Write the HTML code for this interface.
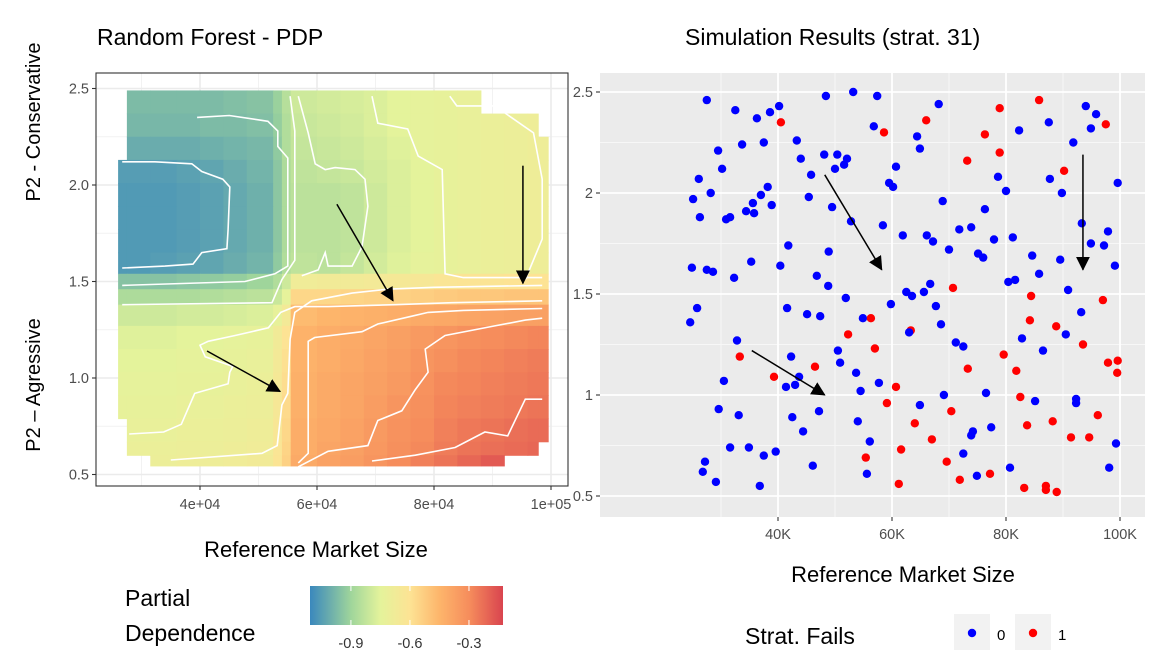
<!DOCTYPE html>
<html><head><meta charset="utf-8"><style>
html,body{margin:0;padding:0;background:#fff;}
svg{display:block;font-family:"Liberation Sans",sans-serif;}
</style></head><body>
<svg id="chart" width="1168" height="669" viewBox="0 0 1168 669">
<defs>
<linearGradient id="pdgrad" x1="0" x2="1" y1="0" y2="0">
<stop offset="0" stop-color="#3a88bd"/><stop offset="0.212" stop-color="#9fd59b"/><stop offset="0.365" stop-color="#e4f39b"/><stop offset="0.518" stop-color="#fde394"/><stop offset="0.671" stop-color="#fdb56b"/><stop offset="0.824" stop-color="#f68d5c"/><stop offset="1" stop-color="#d9444f"/>
</linearGradient>
<marker id="ah" markerWidth="8" markerHeight="8" refX="7" refY="4" orient="auto" markerUnits="userSpaceOnUse"><path d="M0,0 L8,4 L0,8 z" fill="#000"/></marker>
<marker id="ah2" markerWidth="14" markerHeight="14" refX="13" refY="7" orient="auto" markerUnits="userSpaceOnUse"><path d="M0,0 L14,7 L0,14 z" fill="#000"/></marker>
</defs>
<g id="left"></g>
<g id="right"></g>
</svg>
<script>
// ---------- LEFT: PDP heatmap data ----------
const pdXBreaks=[26,27.5,31.5,36,40,44,48,52.5,54,55.5,60,64,68,72,76,80,84,88,92,96,97.8,99.5]; // thousands
const pdYBreaks=[2.49,2.37,2.25,2.13,2.01,1.89,1.77,1.65,1.54,1.46,1.38,1.27,1.15,1.03,0.91,0.79,0.67,0.60,0.545];
const N=null;
const pdValues=[
[N,-.97,-.97,-.97,-.97,-.96,-.95,-.91,-.85,-.80,-.79,-.78,-.77,-.75,-.74,-.73,-.72,N,N,N,N],
[N,-.98,-.98,-.98,-.97,-.97,-.96,-.92,-.86,-.81,-.80,-.79,-.77,-.75,-.74,-.73,-.72,-.71,-.70,-.69,N],
[N,-1.01,-1.01,-1.01,-1.0,-.99,-.98,-.93,-.86,-.82,-.81,-.80,-.78,-.76,-.74,-.73,-.72,-.71,-.70,-.69,-.69],
[-1.05,-1.05,-1.05,-1.04,-1.03,-1.01,-.99,-.94,-.87,-.83,-.82,-.81,-.79,-.77,-.75,-.73,-.72,-.71,-.70,-.69,-.69],
[-1.06,-1.06,-1.06,-1.05,-1.04,-1.02,-1.0,-.94,-.87,-.84,-.84,-.83,-.80,-.77,-.75,-.73,-.72,-.71,-.70,-.69,-.69],
[-1.06,-1.06,-1.06,-1.05,-1.04,-1.02,-1.0,-.94,-.87,-.84,-.84,-.83,-.80,-.77,-.75,-.73,-.72,-.71,-.70,-.69,-.69],
[-1.06,-1.06,-1.06,-1.05,-1.04,-1.02,-1.0,-.94,-.87,-.84,-.84,-.83,-.80,-.77,-.75,-.73,-.72,-.71,-.70,-.69,-.69],
[-1.06,-1.06,-1.05,-1.04,-1.03,-1.01,-.99,-.93,-.86,-.83,-.84,-.82,-.79,-.76,-.74,-.73,-.72,-.71,-.70,-.69,-.69],
[-.95,-.95,-.95,-.94,-.93,-.92,-.9,-.86,-.8,-.68,-.67,-.67,-.66,-.65,-.64,-.62,-.61,-.61,-.60,-.60,-.60],
[-.87,-.87,-.87,-.87,-.86,-.85,-.84,-.81,-.74,-.56,-.56,-.55,-.54,-.54,-.53,-.52,-.51,-.51,-.50,-.50,-.50],
[-.8,-.8,-.8,-.79,-.79,-.78,-.77,-.73,-.66,-.47,-.45,-.44,-.43,-.42,-.41,-.40,-.39,-.38,-.37,-.37,-.37],
[-.76,-.76,-.76,-.75,-.75,-.74,-.73,-.67,-.6,-.44,-.42,-.41,-.39,-.37,-.35,-.33,-.31,-.30,-.29,-.28,-.28],
[-.75,-.75,-.75,-.74,-.74,-.73,-.72,-.66,-.59,-.44,-.42,-.40,-.38,-.36,-.33,-.31,-.29,-.28,-.27,-.26,-.26],
[-.74,-.74,-.74,-.73,-.73,-.72,-.71,-.65,-.58,-.43,-.41,-.39,-.37,-.35,-.32,-.29,-.28,-.27,-.26,-.25,-.25],
[-.73,-.73,-.73,-.72,-.72,-.71,-.70,-.64,-.57,-.43,-.41,-.39,-.36,-.33,-.31,-.28,-.27,-.26,-.25,-.24,-.24],
[N,-.72,-.72,-.71,-.71,-.70,-.69,-.63,-.56,-.42,-.40,-.38,-.35,-.32,-.30,-.27,-.25,-.24,-.23,-.22,-.22],
[N,-.71,-.71,-.70,-.70,-.69,-.68,-.62,-.55,-.42,-.39,-.37,-.34,-.31,-.29,-.26,-.24,-.23,-.22,-.21,N],
[N,N,-.70,-.69,-.69,-.68,-.67,-.61,-.54,-.41,-.38,-.36,-.33,-.30,-.27,-.24,-.21,-.18,N,N,N]
];
const contourLines=[
[[26.7,2.12],[32.3,2.12],[38.6,2.11],[40.3,2.07],[43.9,2.03],[45.1,1.99],[44.8,1.77],[44.6,1.67],[40.3,1.65],[38.8,1.59],[34.0,1.58],[26.7,1.57]],
[[39.5,2.35],[45,2.36],[51.6,2.33],[53.3,2.28],[53.3,2.20],[55.0,2.14],[55.0,1.58],[52.8,1.54],[47.7,1.50],[26.7,1.48]],
[[55.4,2.46],[56.2,2.28],[56.2,1.61],[54.0,1.51],[52.3,1.39],[26.7,1.38]],
[[27.9,0.71],[33.8,0.72],[36.8,0.76],[39.1,0.92],[44.8,0.97],[45.1,1.03],[45.6,1.06],[40.9,1.11],[40,1.17],[41.4,1.19],[46,1.22],[51.7,1.26],[53.8,1.34],[56.2,1.37],[61.9,1.37],[73.3,1.38],[83.1,1.39],[98.5,1.40]],
[[35,0.575],[50.6,0.61],[53.2,0.65],[54,0.86],[55,0.92],[55.4,1.20],[56.2,1.34],[59.1,1.40],[66,1.44],[72,1.46],[80,1.47],[98.5,1.48]],
[[56.8,0.56],[58.5,0.61],[58.5,1.19],[59.6,1.21],[67.7,1.24],[70.4,1.28],[76.2,1.32],[79,1.34],[85,1.35],[98.5,1.36]],
[[69.4,0.57],[76.8,0.60],[83.6,0.64],[88.7,0.72],[92.6,0.70],[95.6,0.89],[98.5,0.89]],
[[56.8,0.54],[61.9,0.62],[68.7,0.65],[70.4,0.78],[74.5,0.83],[76.8,0.94],[79,1.03],[78.5,1.15],[81.9,1.22],[90.4,1.27],[95.6,1.30],[98.5,1.31]],
[[69.4,2.46],[70.4,2.32],[75.5,2.29],[77.3,2.15],[81.4,2.08],[81.9,1.54],[85,1.52],[98.5,1.52]],
[[82.7,2.46],[83.9,2.41],[90.4,2.41],[97,2.27],[98.5,2.03],[98.5,1.72],[95.6,1.51]],
[[56.8,2.46],[58.5,2.27],[59.7,2.11],[61.4,2.08],[63.1,2.09],[66.5,2.08],[68.2,2.03],[68.7,1.89],[67.7,1.68],[66,1.58],[61.9,1.58],[61.4,1.65],[60.2,1.56],[57.4,1.53]]
];
const pdArrows=[[41.2,1.14,53.7,0.93],[63.4,1.90,73.0,1.40],[95.2,2.10,95.2,1.49]];
const pdXTicks=[40000,60000,80000,100000];
const pdXTickLabels=["4e+04","6e+04","8e+04","1e+05"];
const pdYTicks=[0.5,1.0,1.5,2.0,2.5];
const pdYTickLabels=["0.5","1.0","1.5","2.0","2.5"];
const legendTicks=[-0.9,-0.6,-0.3];
const legendTickLabels=["-0.9","-0.6","-0.3"];

// ---------- RIGHT: scatter data ----------
const simX=[27.5,32.5,36.3,38.6,40.2,40.5,43.3,44.0,45.8,48.1,50.4,52.1,51.6,50.0,48.4,53.2,56.8,33.7,37.5,29.5,30.2,26.1,28.2,25.1,26.3,30.9,31.6,34.4,35.6,35.8,37.0,38.2,38.9,45.4,49.5,52.8,41.8,48.9,24.9,27.5,28.6,35.3,32.3,40.4,46.8,48.8,
57.4,68.2,66.0,58.6,64.4,64.9,78.9,85.8,76.3,78.9,73.2,82.3,87.5,94.0,95.8,94.9,97.5,91.8,90.2,87.7,89.8,99.6,60.7,59.5,60.2,78.6,80.0,68.9,76.3,58.4,61.9,66.1,67.2,71.8,73.9,77.9,81.2,70.0,75.1,76.0,84.6,89.5,85.8,93.3,94.9,97.2,97.9,99.1,80.4,81.6,90.9,66.7,62.5,65.6,70.7,84.4,
25.8,24.6,32.8,33.3,30.5,39.3,41.6,45.1,47.4,42.3,41.4,43.0,43.7,46.5,51.9,54.9,56.3,52.3,57.0,50.5,50.9,53.7,54.5,29.6,33.1,47.2,42.5,44.4,54.0,56.1,55.4,55.6,31.6,34.9,39.6,37.5,27.2,26.8,29.1,36.8,46.1,
63.5,59.8,67.7,63.3,63.0,68.6,71.2,72.5,73.3,57.7,60.7,59.1,64.9,69.1,70.4,64.0,67.0,74.2,73.9,76.5,77.4,61.6,61.2,69.6,72.5,71.9,74.9,77.2,80.7,97.0,93.2,84.2,88.8,90.5,82.8,93.5,86.5,79.6,81.8,97.9,99.6,99.5,82.5,85.1,92.3,92.3,96.1,83.7,88.2,91.4,94.6,99.3,98.1,83.2,87.0,87.0,88.9];
const simY=[2.46,2.41,2.37,2.40,2.43,2.35,2.26,2.17,2.09,2.19,2.19,2.17,2.14,2.12,2.48,2.50,2.33,2.24,2.25,2.21,2.12,2.07,2.00,1.97,1.88,1.87,1.88,1.91,1.95,1.90,1.99,2.03,1.94,1.98,1.93,1.86,1.74,1.71,1.63,1.62,1.61,1.66,1.58,1.64,1.59,1.54,
2.48,2.44,2.36,2.30,2.28,2.22,2.42,2.46,2.29,2.20,2.16,2.31,2.35,2.43,2.39,2.32,2.34,2.25,2.11,2.07,2.00,2.05,2.13,2.05,2.03,2.08,2.01,1.96,1.92,1.84,1.79,1.79,1.76,1.82,1.83,1.77,1.78,1.72,1.70,1.68,1.69,1.67,1.60,1.85,1.75,1.74,1.81,1.64,1.56,1.57,1.52,1.55,1.51,1.51,1.53,1.49,
1.43,1.36,1.27,1.19,1.07,1.09,1.43,1.40,1.39,1.19,1.04,1.05,1.09,1.14,1.48,1.38,1.38,1.30,1.23,1.22,1.16,1.11,1.02,0.93,0.90,0.92,0.89,0.82,0.87,0.77,0.69,0.61,0.74,0.74,0.72,0.70,0.67,0.62,0.57,0.55,0.65,
1.49,1.45,1.44,1.32,1.31,1.35,1.26,1.24,1.13,1.06,1.04,0.96,0.95,1.00,0.92,0.86,0.78,0.82,0.80,1.01,0.84,0.73,0.56,0.67,0.71,0.58,0.60,0.61,0.64,1.47,1.41,1.37,1.34,1.30,1.28,1.25,1.22,1.20,1.12,1.16,1.17,1.11,0.99,0.97,0.98,0.96,0.90,0.85,0.87,0.79,0.79,0.76,0.64,0.54,0.55,0.53,0.52];
const simFail=[0,0,0,0,0,1,0,0,0,0,0,0,0,0,0,0,0,0,0,0,0,0,0,0,0,0,0,0,0,0,0,0,0,0,0,0,0,0,0,0,0,0,0,0,0,0,
0,0,1,1,0,0,1,1,1,1,1,0,0,0,0,0,1,0,1,0,0,0,0,0,0,0,0,0,0,0,0,0,0,0,0,0,0,0,0,0,0,0,0,0,0,0,0,0,0,0,0,0,0,0,1,1,
0,0,0,1,0,1,0,0,0,0,0,0,0,1,0,0,1,1,1,0,0,0,0,0,0,0,0,0,0,0,1,0,0,0,0,0,0,0,0,0,0,
0,0,0,1,0,0,0,0,1,0,1,1,0,0,1,1,1,0,0,0,0,1,1,1,0,1,0,1,0,1,0,1,1,0,0,1,0,1,1,1,1,1,1,0,0,0,1,1,1,1,1,0,0,1,1,1,1];
const simArrows=[[35.4,1.22,48.2,1.00],[48.2,2.09,58.2,1.62],[93.5,2.19,93.5,1.62]];
const simXTicks=[40,60,80,100];
const simXTickLabels=["40K","60K","80K","100K"];
const simYTicks=[0.5,1,1.5,2,2.5];
const simYTickLabels=["0.5","1","1.5","2","2.5"];

const NS="http://www.w3.org/2000/svg";
function mk(parent,tag,attrs,text){const e=document.createElementNS(NS,tag);for(const k in attrs)e.setAttribute(k,attrs[k]);if(text!==undefined)e.textContent=text;parent.appendChild(e);return e;}

// color scale
const cStops=[[-1.108,[58,136,189]],[-0.9,[159,213,155]],[-0.75,[228,243,155]],[-0.6,[253,227,148]],[-0.45,[253,181,107]],[-0.3,[246,141,92]],[-0.127,[217,68,79]]];
function pdColor(v){if(v<=cStops[0][0])return 'rgb('+cStops[0][1]+')';for(let i=1;i<cStops.length;i++){if(v<=cStops[i][0]){const a=cStops[i-1],b=cStops[i];const t=(v-a[0])/(b[0]-a[0]);const c=a[1].map((x,j)=>Math.round(x+(b[1][j]-x)*t));return 'rgb('+c+')';}}return 'rgb('+cStops[cStops.length-1][1]+')';}

// ---- left panel ----
const L=document.getElementById('left');
const lx=x=>200+(x-40)*5.85; // x in thousands
const ly=y=>378-(y-1)*193;
mk(L,'rect',{x:96,y:73,width:472,height:413,fill:'#fff'});
const lgrid=mk(L,'g',{});


[30,50,70,90].forEach(v=>mk(lgrid,'line',{x1:lx(v),x2:lx(v),y1:73,y2:486,stroke:'#f2f2f2','stroke-width':1}));
[0.75,1.25,1.75,2.25].forEach(v=>mk(lgrid,'line',{x1:96,x2:568,y1:ly(v),y2:ly(v),stroke:'#f2f2f2','stroke-width':1}));
pdXTicks.forEach(v=>mk(lgrid,'line',{x1:lx(v/1000),x2:lx(v/1000),y1:73,y2:486,stroke:'#ebebeb','stroke-width':1.6}));
pdYTicks.forEach(v=>mk(lgrid,'line',{x1:96,x2:568,y1:ly(v),y2:ly(v),stroke:'#ebebeb','stroke-width':1.6}));
const tiles=mk(L,'g',{});


for(let r=0;r<pdValues.length;r++){for(let c=0;c<pdValues[r].length;c++){const v=pdValues[r][c];if(v===null)continue;
const x0=lx(pdXBreaks[c]),x1=lx(pdXBreaks[c+1]),y0=ly(pdYBreaks[r]),y1=ly(pdYBreaks[r+1]);
const t=mk(tiles,'rect',{x:x0.toFixed(2),y:y0.toFixed(2),width:(x1-x0+0.6).toFixed(2),height:(y1-y0+0.6).toFixed(2),fill:pdColor(v)});

}}
const cg=mk(L,'g',{fill:'none',stroke:'#fff','stroke-width':1.6});


contourLines.forEach(line=>{const p=mk(cg,'polyline',{points:line.map(q=>lx(q[0]).toFixed(1)+','+ly(q[1]).toFixed(1)).join(' ')});

});
pdArrows.forEach(a=>{const e=mk(L,'line',{x1:lx(a[0]),y1:ly(a[1]),x2:lx(a[2]),y2:ly(a[3]),stroke:'#000','stroke-width':1.5,'marker-end':'url(#ah2)'});

});
mk(L,'rect',{x:96,y:73,width:472,height:413,fill:'none',stroke:'#333','stroke-width':1.1});
pdXTicks.forEach((v,i)=>{mk(L,'line',{x1:lx(v/1000),x2:lx(v/1000),y1:486,y2:490,stroke:'#333','stroke-width':1.1});
const t=mk(L,'text',{x:lx(v/1000),y:509,'text-anchor':'middle','font-size':14.5,fill:'#4d4d4d'},pdXTickLabels[i]);

});
pdYTicks.forEach((v,i)=>{mk(L,'line',{x1:92,x2:96,y1:ly(v),y2:ly(v),stroke:'#333','stroke-width':1.1});
const t=mk(L,'text',{x:89,y:ly(v)+5,'text-anchor':'end','font-size':14.5,fill:'#4d4d4d'},pdYTickLabels[i]);

});
let tt=mk(L,'text',{x:97,y:45,'font-size':23,fill:'#000'},'Random Forest - PDP');


tt=mk(L,'text',{x:316,y:557,'text-anchor':'middle','font-size':22,fill:'#000'},'Reference Market Size');


tt=mk(L,'text',{x:0,y:0,transform:'translate(40,122) rotate(-90)','text-anchor':'middle','font-size':20,fill:'#000'},'P2 - Conservative');


tt=mk(L,'text',{x:0,y:0,transform:'translate(40,385) rotate(-90)','text-anchor':'middle','font-size':20,fill:'#000'},'P2 – Agressive');


// colorbar legend
const lg=mk(L,'g',{});


tt=mk(lg,'text',{x:125,y:606,'font-size':23,fill:'#000'},'Partial');


mk(lg,'text',{x:125,y:641,'font-size':23,fill:'#000'},'Dependence');
mk(lg,'rect',{x:310,y:586,width:193,height:39,fill:'url(#pdgrad)'});
const lgx=v=>310+(v+1.108)/0.981*193;
legendTicks.forEach((v,i)=>{mk(lg,'line',{x1:lgx(v),x2:lgx(v),y1:586,y2:591,stroke:'#fff','stroke-width':1});mk(lg,'line',{x1:lgx(v),x2:lgx(v),y1:620,y2:625,stroke:'#fff','stroke-width':1});
mk(lg,'text',{x:lgx(v),y:648,'text-anchor':'middle','font-size':14.5,fill:'#333'},legendTickLabels[i]);});

// ---- right panel ----
const R=document.getElementById('right');
const rx=x=>778+(x-40)*5.7;
const ry=y=>92+(2.5-y)*202;
const bg=mk(R,'rect',{x:600,y:73,width:545,height:444,fill:'#ebebeb'});


[30,50,70,90].forEach(v=>mk(R,'line',{x1:rx(v),x2:rx(v),y1:73,y2:517,stroke:'#f7f7f7','stroke-width':1}));
[0.75,1.25,1.75,2.25].forEach(v=>mk(R,'line',{x1:600,x2:1145,y1:ry(v),y2:ry(v),stroke:'#f7f7f7','stroke-width':1}));
simXTicks.forEach(v=>mk(R,'line',{x1:rx(v),x2:rx(v),y1:73,y2:517,stroke:'#fff','stroke-width':1.8}));
simYTicks.forEach(v=>mk(R,'line',{x1:600,x2:1145,y1:ry(v),y2:ry(v),stroke:'#fff','stroke-width':1.8}));
const pg=mk(R,'g',{});


for(let i=0;i<simX.length;i++){const c=mk(pg,'circle',{cx:rx(simX[i]).toFixed(1),cy:ry(simY[i]).toFixed(1),r:4.2,fill:simFail[i]?'#ff0000':'#0000ff'});

}
simArrows.forEach(a=>{const e=mk(R,'line',{x1:rx(a[0]),y1:ry(a[1]),x2:rx(a[2]),y2:ry(a[3]),stroke:'#000','stroke-width':1.5,'marker-end':'url(#ah2)'});

});
simXTicks.forEach((v,i)=>{mk(R,'line',{x1:rx(v),x2:rx(v),y1:517,y2:521,stroke:'#333','stroke-width':1.1});
const t=mk(R,'text',{x:rx(v),y:539,'text-anchor':'middle','font-size':14.5,fill:'#4d4d4d'},simXTickLabels[i]);

});
simYTicks.forEach((v,i)=>{mk(R,'line',{x1:596,x2:600,y1:ry(v),y2:ry(v),stroke:'#333','stroke-width':1.1});
const t=mk(R,'text',{x:593,y:ry(v)+5,'text-anchor':'end','font-size':14.5,fill:'#4d4d4d'},simYTickLabels[i]);

});
tt=mk(R,'text',{x:685,y:45,'font-size':23,fill:'#000'},'Simulation Results (strat. 31)');


tt=mk(R,'text',{x:903,y:582,'text-anchor':'middle','font-size':22,fill:'#000'},'Reference Market Size');


const sl=mk(R,'g',{});


mk(sl,'text',{x:745,y:644,'font-size':23,fill:'#000'},'Strat. Fails');
mk(sl,'rect',{x:954,y:614,width:36,height:36,fill:'#f2f2f2'});
mk(sl,'circle',{cx:972,cy:633,r:4.2,fill:'#0000ff'});
mk(sl,'text',{x:997,y:640,'font-size':15,fill:'#000'},'0');
mk(sl,'rect',{x:1015,y:614,width:36,height:36,fill:'#f2f2f2'});
mk(sl,'circle',{cx:1033,cy:633,r:4.2,fill:'#ff0000'});
mk(sl,'text',{x:1058,y:640,'font-size':15,fill:'#000'},'1');
</script>
</body></html>
